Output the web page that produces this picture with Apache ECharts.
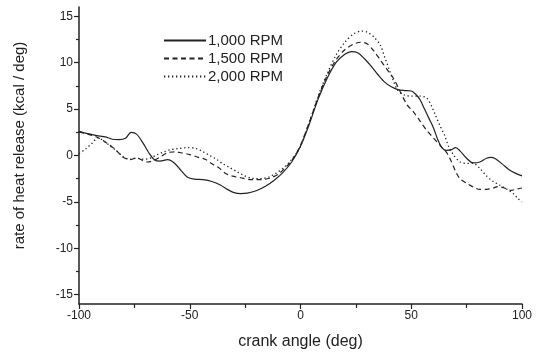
<!DOCTYPE html>
<html><head><meta charset="utf-8">
<script src="https://cdn.jsdelivr.net/npm/echarts@6/dist/echarts.min.js"></script>
<style>html,body{margin:0;padding:0;background:#fff}#c{width:539px;height:355px}</style>
</head><body><div id="c"></div>
<script>
const seriesNames = ['1,000 RPM', '1,500 RPM', '2,000 RPM'];
const rpm1000 = [[-100,2.6],[-96,2.35],[-92,2.15],[-88,2.0],[-85,1.75],[-82,1.7],[-79,1.85],[-76.5,2.5],[-74,2.3],[-71,1.3],[-68.5,0.3],[-66,-0.45],[-63.5,-0.6],[-60,-0.45],[-57,-0.8],[-54,-1.6],[-51,-2.35],[-48,-2.55],[-44,-2.6],[-40,-2.8],[-36,-3.2],[-33,-3.65],[-30,-4.0],[-27,-4.1],[-24,-4.05],[-20,-3.8],[-16,-3.35],[-12,-2.7],[-8,-1.85],[-4,-0.7],[0,1.0],[4,3.4],[8,6.1],[12,8.3],[16,10.0],[20,10.9],[23,11.2],[26,11.05],[29,10.4],[32,9.6],[35,8.7],[38,7.9],[41,7.4],[44,7.1],[47,7.0],[50,6.95],[52,6.6],[54,6.0],[56,5.0],[58,4.0],[60,3.0],[62,1.7],[64,0.8],[66,0.55],[68,0.6],[70,0.85],[72,0.5],[75,-0.3],[78,-0.8],[81,-0.7],[84,-0.3],[86,-0.2],[88,-0.35],[91,-0.9],[94,-1.5],[97,-1.9],[100,-2.2]];
const rpm1500 = [[-100,2.55],[-96,2.3],[-92,2.0],[-89,1.6],[-86,1.1],[-83,0.5],[-80,-0.2],[-77,-0.45],[-74,-0.25],[-71,-0.55],[-69,-0.7],[-66,-0.5],[-63,-0.1],[-60,0.3],[-57,0.4],[-54,0.3],[-50,0.1],[-46,-0.2],[-43,-0.4],[-40,-0.9],[-37,-1.3],[-34,-1.9],[-31,-2.2],[-27,-2.4],[-22,-2.6],[-18,-2.6],[-14,-2.45],[-10,-2.0],[-6,-1.1],[-3,-0.2],[0,1.1],[4,3.6],[8,6.3],[12,8.6],[16,10.3],[20,11.4],[24,12.0],[27,12.2],[30,12.05],[33,11.3],[36,10.3],[39,9.3],[42,8.3],[45,6.9],[48,5.5],[51,4.7],[54,3.7],[57,2.7],[60,1.9],[63,1.1],[66,0.3],[68,-0.6],[70,-1.7],[72,-2.5],[75,-3.0],[78,-3.4],[81,-3.65],[84,-3.65],[87,-3.5],[89,-3.35],[92,-3.5],[95,-3.75],[98,-3.6],[100,-3.5]];
const rpm2000 = [[-100,0.2],[-97,0.7],[-94,1.35],[-91.5,1.9],[-89,1.6],[-86,1.05],[-83,0.5],[-80,-0.15],[-77,-0.4],[-74,-0.3],[-71,-0.4],[-68,-0.3],[-65,0.05],[-62,0.35],[-59,0.6],[-55,0.75],[-51,0.85],[-47,0.75],[-44,0.4],[-41,0.0],[-38,-0.4],[-35,-0.9],[-32,-1.3],[-29,-1.7],[-26,-2.1],[-22,-2.45],[-18,-2.5],[-14,-2.3],[-11,-1.9],[-8,-1.4],[-5,-0.7],[-2,0.2],[0,1.0],[4,3.6],[8,6.4],[12,8.8],[16,10.8],[20,12.2],[24,13.1],[27.5,13.4],[30,13.3],[33,12.8],[36,11.9],[38,10.6],[40,9.3],[42,8.0],[44,7.0],[47,6.5],[50,6.4],[54,6.4],[57,6.2],[59,5.4],[61,4.3],[63,3.2],[65,2.2],[67,0.9],[69,0.1],[72,-0.7],[75,-0.85],[78,-0.85],[81,-1.4],[84,-2.2],[87,-2.8],[90,-3.2],[93,-3.6],[96,-4.1],[98,-4.6],[100,-5.0]];
const yMajorTicks = [-15,-10,-5,0,5,10,15];
const yMinorTicks = [-12.5,-7.5,-2.5,2.5,7.5,12.5];
const xTitle = 'crank angle (deg)';
const yTitle = 'rate of heat release (kcal / deg)';

const ink = '#222';
const font = 'Liberation Sans, Arial';
const chart = echarts.init(document.getElementById('c'));
const mkSeries = (name, data, type, width) => ({
  name, type: 'line', data, smooth: 0.3, showSymbol: false, symbol: 'none',
  lineStyle: { color: ink, width, type }, itemStyle: { color: ink }, animation: false
});
chart.setOption({
  animation: false,
  grid: { left: 79, right: 17, top: 7, bottom: 50 },
  legend: {
    orient: 'vertical', left: 163, top: 33, itemWidth: 42, itemHeight: 14, itemGap: 3,
    padding: 0, data: seriesNames,
    itemStyle: { color: 'rgba(0,0,0,0)', borderWidth: 0, opacity: 0 },
    textStyle: { fontSize: 15, color: ink, fontFamily: font, padding: [0,0,0,-3] }
  },
  xAxis: {
    type: 'value', min: -100, max: 100, interval: 50,
    name: xTitle, nameLocation: 'middle', nameGap: 30,
    nameTextStyle: { fontSize: 16, color: ink, fontFamily: font },
    axisLine: { show: true, onZero: false, lineStyle: { color: ink, width: 1.5 } },
    axisTick: { show: true, length: 5, lineStyle: { color: ink, width: 1.2 } },
    minorTick: { show: true, splitNumber: 2, length: 4, lineStyle: { color: ink, width: 1.2 } },
    axisLabel: { fontSize: 12, color: ink, margin: 6, fontFamily: font },
    splitLine: { show: false }, minorSplitLine: { show: false }
  },
  yAxis: [{
    type: 'value', min: -16, max: 16, position: 'left',
    name: yTitle, nameLocation: 'middle', nameGap: 52,
    nameTextStyle: { fontSize: 15, color: ink, fontFamily: font, padding: [0, 0, 0, 20] },
    axisLine: { show: true, onZero: false, lineStyle: { color: ink, width: 1.5 } },
    axisTick: { show: true, length: 5, customValues: yMajorTicks, lineStyle: { color: ink, width: 1.2 } },
    axisLabel: { fontSize: 12, color: ink, margin: 6, customValues: yMajorTicks, fontFamily: font },
    splitLine: { show: false }
  }, {
    type: 'value', min: -16, max: 16, position: 'left', offset: 0,
    axisLine: { show: false, onZero: false },
    axisTick: { show: true, length: 3, customValues: yMinorTicks, lineStyle: { color: ink, width: 1.2 } },
    axisLabel: { show: false },
    splitLine: { show: false }
  }],
  series: [
    mkSeries(seriesNames[0], rpm1000, 'solid', 1.2),
    mkSeries(seriesNames[1], rpm1500, [5, 3.5], 1.2),
    mkSeries(seriesNames[2], rpm2000, [1.3, 2.7], 1.3)
  ]
});
</script></body></html>
